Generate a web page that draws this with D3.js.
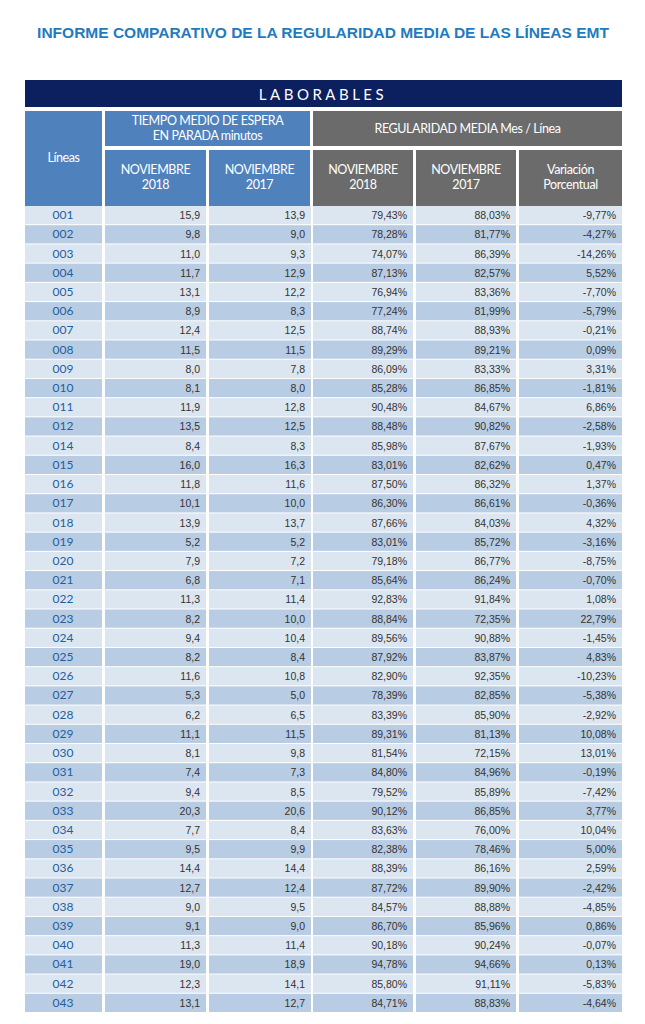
<!DOCTYPE html>
<html><head><meta charset="utf-8">
<script src="https://cdn.jsdelivr.net/npm/d3@7"></script>
<style>body{margin:0;background:#fff}svg{display:block}</style></head>
<body><svg id="c" width="645" height="1024"></svg>
<script>
const lineas=["001","002","003","004","005","006","007","008","009","010","011","012","014","015","016","017","018","019","020","021","022","023","024","025","026","027","028","029","030","031","032","033","034","035","036","037","038","039","040","041","042","043"];
const espera2018=[15.9,9.8,11.0,11.7,13.1,8.9,12.4,11.5,8.0,8.1,11.9,13.5,8.4,16.0,11.8,10.1,13.9,5.2,7.9,6.8,11.3,8.2,9.4,8.2,11.6,5.3,6.2,11.1,8.1,7.4,9.4,20.3,7.7,9.5,14.4,12.7,9.0,9.1,11.3,19.0,12.3,13.1];
const espera2017=[13.9,9.0,9.3,12.9,12.2,8.3,12.5,11.5,7.8,8.0,12.8,12.5,8.3,16.3,11.6,10.0,13.7,5.2,7.2,7.1,11.4,10.0,10.4,8.4,10.8,5.0,6.5,11.5,9.8,7.3,8.5,20.6,8.4,9.9,14.4,12.4,9.5,9.0,11.4,18.9,14.1,12.7];
const reg2018=[79.43,78.28,74.07,87.13,76.94,77.24,88.74,89.29,86.09,85.28,90.48,88.48,85.98,83.01,87.50,86.30,87.66,83.01,79.18,85.64,92.83,88.84,89.56,87.92,82.90,78.39,83.39,89.31,81.54,84.80,79.52,90.12,83.63,82.38,88.39,87.72,84.57,86.70,90.18,94.78,85.80,84.71];
const reg2017=[88.03,81.77,86.39,82.57,83.36,81.99,88.93,89.21,83.33,86.85,84.67,90.82,87.67,82.62,86.32,86.61,84.03,85.72,86.77,86.24,91.84,72.35,90.88,83.87,92.35,82.85,85.90,81.13,72.15,84.96,85.89,86.85,76.00,78.46,86.16,89.90,88.88,85.96,90.24,94.66,91.11,88.83];
const variacion=[-9.77,-4.27,-14.26,5.52,-7.70,-5.79,-0.21,0.09,3.31,-1.81,6.86,-2.58,-1.93,0.47,1.37,-0.36,4.32,-3.16,-8.75,-0.70,1.08,22.79,-1.45,4.83,-10.23,-5.38,-2.92,10.08,13.01,-0.19,-7.42,3.77,10.04,5.00,2.59,-2.42,-4.85,0.86,-0.07,0.13,-5.83,-4.64];
const colKeys=["lin","e18","e17","r18","r17","var"];

const svg=d3.select("#c");
const fmt1=v=>d3.format(".1f")(v).replace(".",",").replace("\u2212","-");
const fmtP=v=>d3.format(".2f")(v).replace(".",",").replace("\u2212","-")+"%";
const colEdges=[25,104,207,311,414,517,622];
const x=d3.scaleOrdinal().domain(colKeys).range(colEdges.slice(0,6));
const w=k=>colEdges[colKeys.indexOf(k)+1]-colEdges[colKeys.indexOf(k)];
const y=d3.scaleBand().domain(lineas).range([206,1013]);
const HF="'Lato','Open Sans',sans-serif";

svg.append("text").attr("x",323).attr("y",38).attr("text-anchor","middle").attr("fill","#1f7bc0")
 .attr("font-family","'Liberation Sans',Arial,sans-serif").attr("font-weight","bold").attr("font-size",15.5)
 .text("INFORME COMPARATIVO DE LA REGULARIDAD MEDIA DE LAS LÍNEAS EMT");

svg.append("rect").attr("x",25).attr("y",80).attr("width",597).attr("height",27).attr("fill","#0c1f5e");
svg.append("text").attr("x",323).attr("y",100).attr("text-anchor","middle").attr("fill","#fff")
 .attr("font-family",HF).attr("font-size",15).attr("letter-spacing",3.5).text("LABORABLES");

function hcell(x0,x1,y0,y1,fill,lines,ty){
 svg.append("rect").attr("x",x0).attr("y",y0).attr("width",x1-x0).attr("height",y1-y0).attr("fill",fill);
 const t=svg.append("text").attr("text-anchor","middle").attr("fill","#fff").attr("font-family",HF).attr("font-size",12.5).attr("letter-spacing",-0.4);
 lines.forEach((l,i)=>t.append("tspan").attr("x",(x0+x1)/2).attr("y",ty+i*15).text(l));
}
const BL="#4f81bd",GR="#6b6b6b";
hcell(25,102,111,206,BL,["Líneas"],162);
hcell(105,310,111,146,BL,["TIEMPO MEDIO DE ESPERA","EN PARADA minutos"],125);
hcell(313,622,111,146,GR,["REGULARIDAD MEDIA Mes / Línea"],133);
hcell(105,206,150,206,BL,["NOVIEMBRE","2018"],174);
hcell(209,310,150,206,BL,["NOVIEMBRE","2017"],174);
hcell(313,413,150,206,GR,["NOVIEMBRE","2018"],174);
hcell(416,516,150,206,GR,["NOVIEMBRE","2017"],174);
hcell(519,622,150,206,GR,["Variación","Porcentual"],174);

const rows=lineas.map((l,i)=>({lin:l,e18:fmt1(espera2018[i]),e17:fmt1(espera2017[i]),r18:fmtP(reg2018[i]),r17:fmtP(reg2017[i]),var:fmtP(variacion[i]),i}));
const gaps={lin:[0,-2],e18:[1,-1],e17:[2,0],r18:[2,-1],r17:[2,-1],var:[2,0]};
const g=svg.append("g").selectAll("g").data(rows).join("g").attr("transform",d=>`translate(0,${y(d.lin)})`);
colKeys.forEach(k=>{
 g.append("rect").attr("x",x(k)+gaps[k][0]).attr("y",0).attr("width",w(k)-gaps[k][0]+gaps[k][1]).attr("height",y.bandwidth()-1)
  .attr("fill",d=>d.i%2?"#b8cce4":"#dce6f1");
 const t=g.append("text").attr("y",y.bandwidth()/2+3.5).text(d=>d[k]);
 if(k==="lin") t.attr("x",x(k)+38).attr("text-anchor","middle").attr("fill","#1f5f9e").attr("font-family",HF).attr("font-size",12);
 else t.attr("x",x(k)+w(k)+gaps[k][1]-6).attr("text-anchor","end").attr("fill","#333").attr("font-family","'Liberation Sans',Arial,sans-serif").attr("font-size",10.5);
});
</script></body></html>
